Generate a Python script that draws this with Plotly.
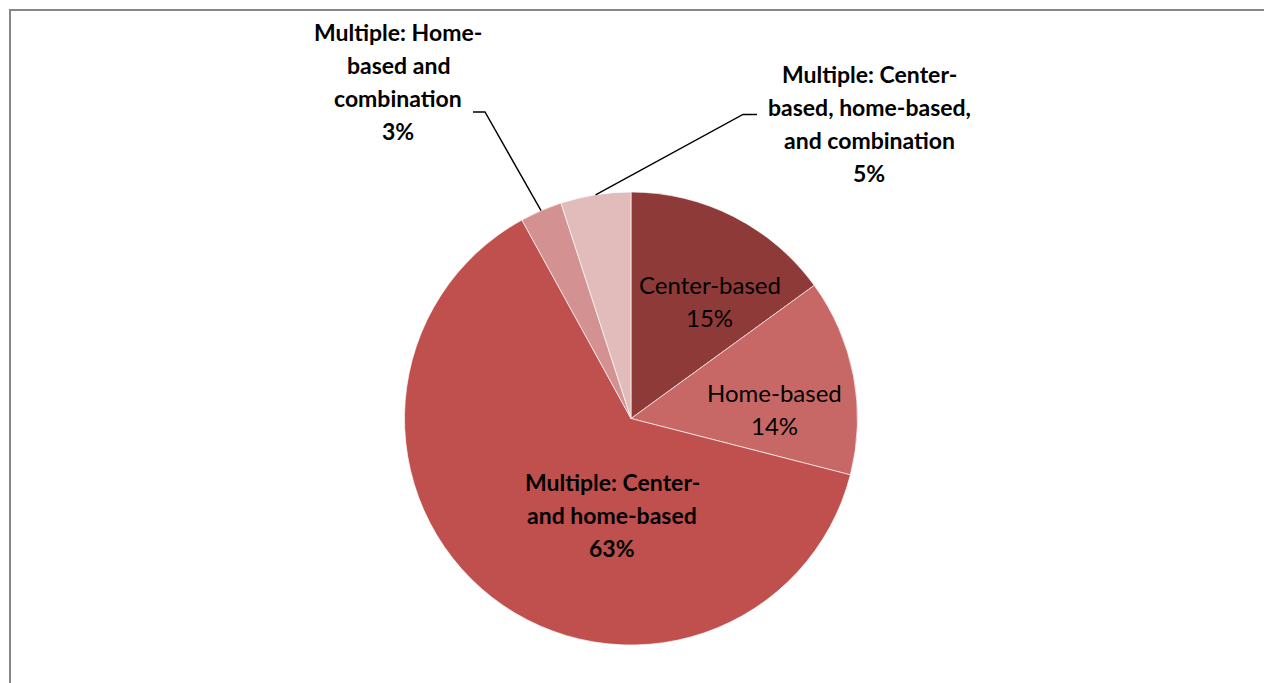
import math
import plotly.graph_objects as go

# ---- data ----
categories = [
    "Center-based",
    "Home-based",
    "Multiple: Center- and home-based",
    "Multiple: Home-based and combination",
    "Multiple: Center-based, home-based, and combination",
]
values = [15, 14, 63, 3, 5]
label_lines = [
    ["Center-based", "15%"],
    ["Home-based", "14%"],
    ["Multiple: Center-", "and home-based", "63%"],
    ["Multiple: Home-", "based and", "combination", "3%"],
    ["Multiple: Center-", "based, home-based,", "and combination", "5%"],
]
label_bold = [False, False, True, True, True]
colors = ["#8E3A38", "#C86866", "#C0504D", "#D39291", "#E2BCBB"]

# ---- layout constants (pixels) ----
W, H = 1264, 683
CX, CY, R = 631, 418.5, 226.5
FONT = "Lato, 'Open Sans', sans-serif"
LINE_H = 33


def px(x, y):
    return x / W, 1 - y / H


fig = go.Figure(
    go.Pie(
        labels=categories,
        values=values,
        sort=False,
        direction="clockwise",
        rotation=0,
        marker=dict(colors=colors, line=dict(color="rgba(255,255,255,0.8)", width=0.8)),
        textinfo="none",
        hoverinfo="label+percent",
        showlegend=False,
        domain=dict(x=[(CX - R) / W, (CX + R) / W], y=[1 - (CY + R) / H, 1 - (CY - R) / H]),
    )
)

# label positions (pixel centre of first line)
label_pos = [(709.5, 284), (774, 392), (612, 482), (398, 32), (869, 74)]
annotations = []
for lines, bold, (x, y0) in zip(label_lines, label_bold, label_pos):
    for k, line in enumerate(lines):
        ax, ay = px(x, y0 + k * LINE_H)
        annotations.append(
            dict(
                x=ax, y=ay, xref="paper", yref="paper",
                text=f"<b>{line}</b>" if bold else line, showarrow=False,
                xanchor="center", yanchor="middle", align="center",
                font=dict(family=FONT, size=23 if bold else 24, color="#000000"),
            )
        )

# leader lines: from slice mid-angle on the rim to label tick
total = sum(values)
cum = [sum(values[:i]) for i in range(len(values))]


def rim_point(i):
    frac = (cum[i] + values[i] / 2) / total
    ang = 2 * math.pi * frac
    return CX + R * math.sin(ang), CY - R * math.cos(ang)


shapes = []
leaders = {3: ((473, 112), (485, 112)), 4: ((757, 114.5), (743, 114.5))}
for i, (p_end, p_knee) in leaders.items():
    rx, ry = rim_point(i)
    pts = [px(*p_end), px(*p_knee), px(rx, ry)]
    path = "M {} {} L {} {} L {} {}".format(pts[0][0], pts[0][1], pts[1][0], pts[1][1], pts[2][0], pts[2][1])
    shapes.append(dict(type="path", xref="paper", yref="paper", path=path,
                       line=dict(color="#000000", width=1.4)))

# chart frame
fx0, fy1 = px(10, 10)
shapes.append(dict(type="rect", xref="paper", yref="paper", x0=fx0, y0=-0.05, x1=1.05, y1=fy1,
                   line=dict(color="#878787", width=2), fillcolor="rgba(0,0,0,0)"))

fig.update_layout(
    width=W, height=H, autosize=False,
    margin=dict(l=0, r=0, t=0, b=0),
    paper_bgcolor="#FFFFFF", plot_bgcolor="#FFFFFF",
    annotations=annotations, shapes=shapes,
    font=dict(family=FONT),
)

fig.write_html(
    "out.html",
    config={"displayModeBar": False},
    post_script="document.body.style.margin='0px';document.body.style.overflow='hidden';",
)
